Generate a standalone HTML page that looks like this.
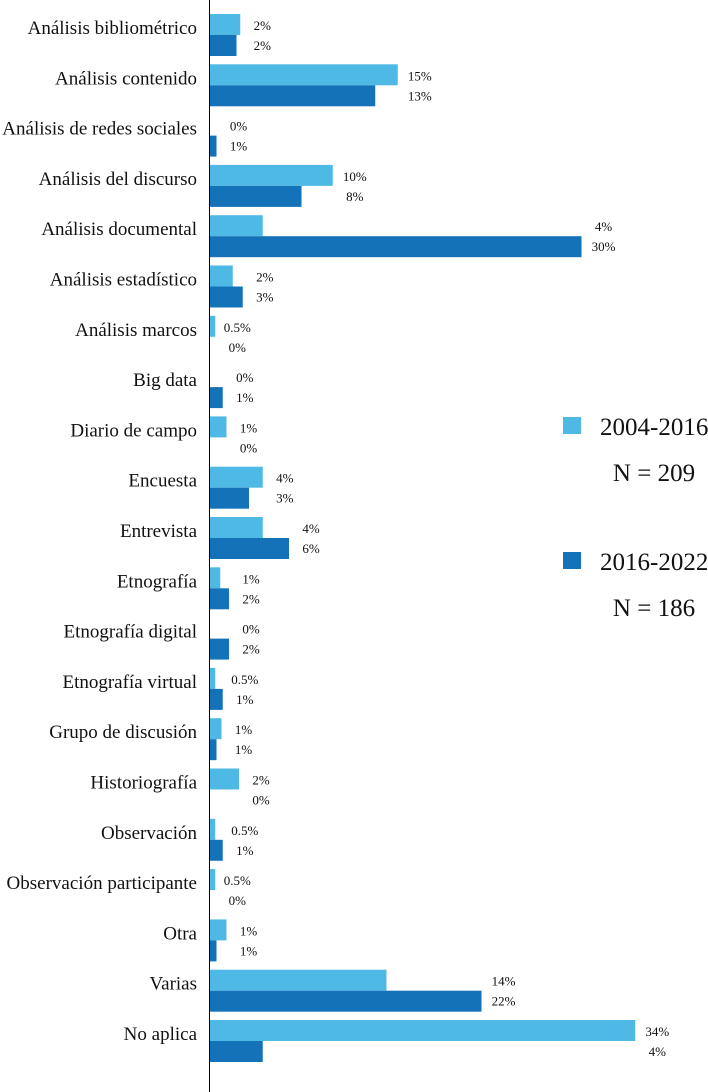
<!DOCTYPE html>
<html><head><meta charset="utf-8"><style>
body{margin:0;background:#fff;}
svg{display:block;font-family:"Liberation Serif",serif;}
</style></head><body>
<svg id="chart" width="708" height="1092" viewBox="0 0 708 1092"></svg>
<script>
const categories=["Análisis bibliométrico","Análisis contenido","Análisis de redes sociales","Análisis del discurso","Análisis documental","Análisis estadístico","Análisis marcos","Big data","Diario de campo","Encuesta","Entrevista","Etnografía","Etnografía digital","Etnografía virtual","Grupo de discusión","Historiografía","Observación","Observación participante","Otra","Varias","No aplica"];
const series1=[2.5,15.1,0,9.9,4.3,1.9,0.5,0,1.4,4.3,4.3,0.9,0,0.5,1.0,2.4,0.5,0.5,1.4,14.2,34.1];
const series2=[2.2,13.3,0.6,7.4,29.8,2.7,0,1.1,0,3.2,6.4,1.6,1.6,1.1,0.6,0,1.1,0,0.6,21.8,4.3];
const labels1=["2%","15%","0%","10%","4%","2%","0.5%","0%","1%","4%","4%","1%","0%","0.5%","1%","2%","0.5%","0.5%","1%","14%","34%"];
const labels2=["2%","13%","1%","8%","30%","3%","0%","1%","0%","3%","6%","2%","2%","1%","1%","0%","1%","0%","1%","22%","4%"];
const legendLabels=["2004-2016","2016-2022"];
const legendN=["N = 209","N = 186"];

const svg=document.getElementById('chart');
const NS='http://www.w3.org/2000/svg';
const X0=209, PX=12.5, Y0=14, PITCH=50.3, BH=21;
const xs=v=>X0+v*PX;
const ys=i=>Y0+i*PITCH;
const C1='#4fb9e6', C2='#1473b8';
function mk(t,a){const e=document.createElementNS(NS,t);for(const k in a)e.setAttribute(k,a[k]);svg.appendChild(e);return e;}
categories.forEach((c,i)=>{
  const y=ys(i);
  const t=mk('text',{x:197,y:y+20,'text-anchor':'end','font-size':19,fill:'#111'});
  t.textContent=c;
  
  
  const b1=mk('rect',{x:X0,y:y,width:xs(series1[i])-X0,height:BH,fill:C1});
  
  
  const b2=mk('rect',{x:X0,y:y+BH,width:xs(series2[i])-X0,height:BH,fill:C2});
  
  
  const lx=Math.max(xs(series1[i]),xs(series2[i]))+22;
  const l1=mk('text',{x:lx,y:y+16,'text-anchor':'middle','font-size':13,fill:'#111'});
  l1.textContent=labels1[i];
  
  
  const l2=mk('text',{x:lx,y:y+BH+15,'text-anchor':'middle','font-size':13,fill:'#111'});
  l2.textContent=labels2[i];
  
  
});
const ax=mk('line',{x1:X0+0.5,y1:0,x2:X0+0.5,y2:1092,stroke:'#000','stroke-width':1});


[[C1,417,legendLabels[0],legendN[0]],[C2,552,legendLabels[1],legendN[1]]].forEach(([col,y,lab,n])=>{
  const s=mk('rect',{x:563,y:y,width:18,height:17,fill:col});
  
  
  const t=mk('text',{x:600,y:y+18,'font-size':25,fill:'#111'});
  t.textContent=lab;
  
  
  const tn=mk('text',{x:654,y:y+64,'text-anchor':'middle','font-size':25,fill:'#111'});
  tn.textContent=n;
  
  
});
</script>
</body></html>
